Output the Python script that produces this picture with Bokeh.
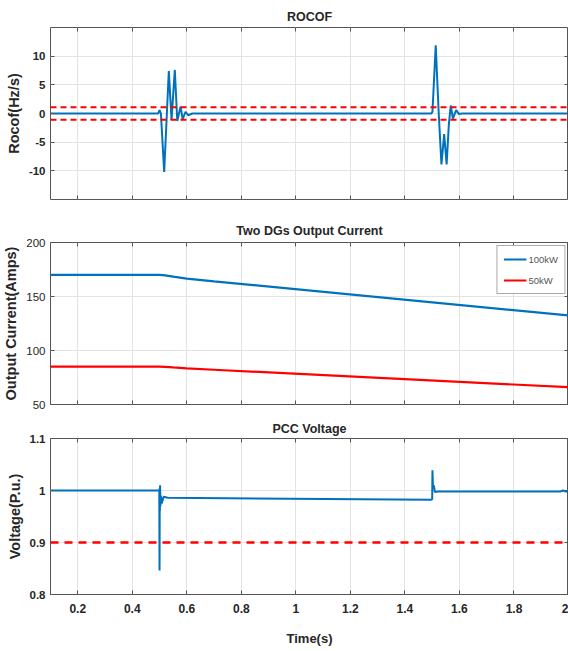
from bokeh.plotting import figure
from bokeh.layouts import column
from bokeh.models import (FixedTicker, LinearAxis, CustomJSTickFormatter, Range1d,
                          Span, Legend, LegendItem)
from bokeh.embed import file_html
from bokeh.resources import INLINE

# ---------------- data ----------------
rocof_t = [0.1, 0.495, 0.500, 0.505, 0.517, 0.534, 0.544, 0.556, 0.565, 0.577,
           0.585, 0.595, 0.605, 0.62,
           1.497, 1.501, 1.513, 1.524, 1.534, 1.544, 1.553, 1.561, 1.568, 1.576,
           1.588, 1.598, 1.61, 2.0]
rocof_v = [0.0, 0.0, 0.6, 0.0, -10.2, 7.4, -1.1, 7.6, -1.3, 1.2,
           -1.0, 0.3, -0.3, 0.0,
           0.0, 0.3, 11.9, 0.0, -8.9, -3.6, -8.9, -2.0, 1.4, -0.9,
           0.6, -0.1, 0.0, 0.0]
rocof_limits = [1.1, -1.1]

cur_t = [0.1, 0.5, 0.52, 0.55, 0.6, 0.7, 2.0]
cur_100kw = [170.0, 170.0, 169.6, 168.4, 166.6, 164.0, 132.5]
cur_50kw = [85.0, 85.0, 84.8, 84.3, 83.5, 82.2, 66.0]

volt_t = [0.1, 0.499, 0.500, 0.5006, 0.5012, 0.502, 0.503, 0.505, 0.508, 0.515, 0.53,
          1.495, 1.500, 1.501, 1.503, 1.506, 1.51, 1.52, 1.97, 1.98, 1.99, 2.0]
volt_v = [1.0, 1.0, 0.846, 1.005, 0.96, 1.01, 0.97, 0.99, 0.975, 0.988, 0.986,
          0.982, 0.983, 1.039, 1.005, 1.01, 0.997, 0.998, 0.998, 1.0, 0.998, 0.998]
volt_limit = [0.9]

x_ticks = [0.2, 0.4, 0.6, 0.8, 1, 1.2, 1.4, 1.6, 1.8, 2]
rocof_ticks = [-10, -5, 0, 5, 10]
cur_ticks = [50, 100, 150, 200]
volt_ticks = [0.8, 0.9, 1, 1.1]

BLUE = "#0072BD"
RED = "#FF0000"
FONT = "Liberation Sans"
AXC = "#555555"
TXT = "#262626"

fmt_code = "return tick.toString();"


def hide_labels(ax):
    ax.major_label_text_color = None
    ax.major_label_text_font_size = "1px"
    ax.major_label_standoff = 0


def make_fig(height, top, bottom, yr, title, title_standoff, ylabel, yticks, show_x, tick_style):
    p = figure(width=568, height=height, x_range=Range1d(0.1, 2.0), y_range=Range1d(*yr),
               output_backend="svg", toolbar_location=None,
               min_border_left=48, min_border_right=0, min_border_top=top,
               min_border_bottom=bottom)
    p.title.text = title
    p.title.align = "center"
    p.title.text_font = FONT
    p.title.text_font_size = "12.5px"
    p.title.text_font_style = "bold"
    p.title.text_color = TXT
    p.title.standoff = title_standoff
    p.outline_line_color = AXC
    p.outline_line_width = 1
    p.grid.grid_line_color = "#e3e3e3"
    p.grid.grid_line_width = 1
    p.xgrid.ticker = FixedTicker(ticks=x_ticks)
    p.ygrid.ticker = FixedTicker(ticks=yticks)

    xa = p.xaxis[0]
    xa.ticker = FixedTicker(ticks=x_ticks)
    xa.formatter = CustomJSTickFormatter(code=fmt_code)
    ya = p.yaxis[0]
    ya.ticker = FixedTicker(ticks=yticks)
    ya.formatter = CustomJSTickFormatter(code=fmt_code)
    ya.axis_label = ylabel
    ya.axis_label_text_font = FONT
    ya.axis_label_text_font_size = "14.5px"
    ya.axis_label_text_font_style = "bold"
    ya.axis_label_text_color = TXT
    ya.axis_label_standoff = 4
    for a in (xa, ya):
        a.axis_line_color = None
        a.major_tick_in = 4
        a.major_tick_out = 0
        a.minor_tick_in = 0
        a.minor_tick_out = 0
        a.major_tick_line_color = AXC
        a.major_label_text_font = FONT
        a.major_label_text_font_size = "11.5px"
        a.major_label_text_font_style = tick_style
        a.major_label_text_color = TXT
        a.major_label_standoff = 5
    if not show_x:
        hide_labels(xa)
    # box ticks on top/right
    for loc, ticks in (("above", x_ticks), ("right", yticks)):
        ax = LinearAxis(ticker=FixedTicker(ticks=ticks))
        ax.axis_line_color = None
        ax.major_tick_in = 4
        ax.major_tick_out = 0
        ax.minor_tick_in = 0
        ax.minor_tick_out = 0
        ax.major_tick_line_color = AXC
        hide_labels(ax)
        p.add_layout(ax, loc)
    return p, xa


# ---- ROCOF ----
p1, _ = make_fig(212, 27, 13, (-15, 15), "ROCOF", 7, "Rocof(Hz/s)", rocof_ticks, False, "bold")
for lim in rocof_limits:
    p1.add_layout(Span(location=lim, dimension="width", line_color=RED,
                       line_width=2, line_dash="6 4"))
p1.line(rocof_t, rocof_v, line_color=BLUE, line_width=2)

# ---- Currents ----
p2, _ = make_fig(203, 30, 11, (50, 200), "Two DGs Output Current", 9, "Output Current(Amps)",
                 cur_ticks, False, "normal")
r100 = p2.line(cur_t, cur_100kw, line_color=BLUE, line_width=2.2)
r50 = p2.line(cur_t, cur_50kw, line_color=RED, line_width=2.2)
leg = Legend(items=[LegendItem(label="100kW", renderers=[r100]),
                    LegendItem(label="50kW", renderers=[r50])],
             location="top_right")
leg.label_text_font = FONT
leg.label_text_font_size = "9.5px"
leg.label_text_color = "#555555"
leg.glyph_width = 23
leg.glyph_height = 14
leg.label_standoff = 2
leg.label_height = 14
leg.spacing = 7
leg.padding = 6
leg.margin = 3
leg.border_line_color = AXC
leg.border_line_width = 1
p2.add_layout(leg)

# ---- PCC Voltage ----
p3, xa3 = make_fig(233, 23, 53, (0.8, 1.1), "PCC Voltage", 5, "Voltage(P.u.)", volt_ticks, True, "bold")
xa3.axis_label = "Time(s)"
xa3.axis_label_text_font = FONT
xa3.axis_label_text_font_size = "13px"
xa3.axis_label_text_font_style = "bold"
xa3.axis_label_text_color = TXT
xa3.axis_label_standoff = 15
xa3.major_label_standoff = 9
xa3.major_label_text_font_size = "12px"
for lim in volt_limit:
    p3.add_layout(Span(location=lim, dimension="width", line_color=RED,
                       line_width=2.5, line_dash="8 6"))
p3.line(volt_t, volt_v, line_color=BLUE, line_width=2)

layout = column(p1, p2, p3, spacing=0)
open("out.html", "w").write(file_html(layout, INLINE))
